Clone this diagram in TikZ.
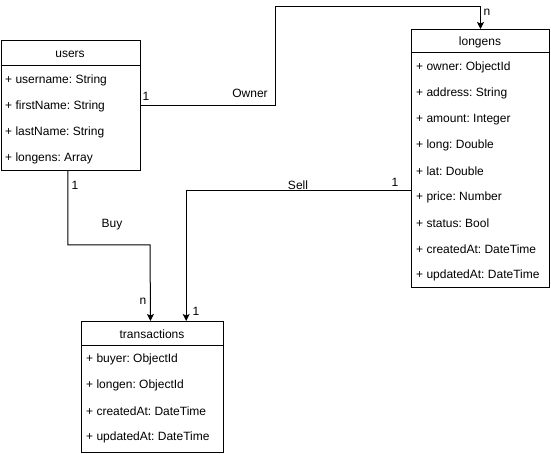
\documentclass[tikz,border=0pt]{standalone}
\usepackage{fontspec}
\setmainfont{Liberation Sans}
\usetikzlibrary{arrows.meta}
\frenchspacing
\begin{document}
\begin{tikzpicture}[x=1pt,y=-1pt,
  font=\fontsize{12}{14}\selectfont,
  every node/.style={inner sep=0pt},
  entity/.style={draw, line width=1pt, fill=white, anchor=north west},
  field/.style={anchor=west},
  link/.style={line width=1pt, -{Stealth[length=7pt,width=7pt,inset=1.5pt]}}]
\useasboundingbox (0,0) rectangle (551,454);

% entity: users
\node[entity, minimum width=139.5pt, minimum height=130pt] (users) at (0.5,40) {};
\draw[line width=1pt] (users.north west |- 0,66) -- (users.north east |- 0,66);
\node (usersT) at (70,54) {users};
\foreach \t [count=\i from 0] in {username: String, firstName: String, lastName: String, longens: Array}
  \node[field] (u\i) at (5,80.5+26*\i) {+ \t};

% entity: longens
\node[entity, minimum width=138pt, minimum height=258pt] (longens) at (411,29) {};
\draw[line width=1pt] (411,53) -- (549,53);
\node (longensT) at (480,42) {longens};
\foreach \t [count=\i from 0] in {owner: ObjectId, address: String, amount: Integer, long: Double, lat: Double, price: Number, status: Bool, createdAt: DateTime, updatedAt: DateTime}
  \node[field] (l\i) at (416,67+26.1*\i) {+ \t};

% entity: transactions
\node[entity, minimum width=142pt, minimum height=130.5pt] (trans) at (81,321) {};
\draw[line width=1pt] (81,345.5) -- (223,345.5);
\node (transT) at (152,334) {transactions};
\foreach \t [count=\i from 0] in {buyer: ObjectId, longen: ObjectId, createdAt: DateTime, updatedAt: DateTime}
  \node[field] (t\i) at (86,359+26.2*\i) {+ \t};

% relations
\coordinate (ownBend) at (275,7);
\draw[link] (users.east) -| (ownBend) -| (longens.north);
\node at (250,93) {Owner};
\node at (146,96) {1};
\node at (487,12) {n};

\coordinate (buyBend) at (150,245);
\draw[link] ([xshift=-3pt]users.south) |- (buyBend) -- ([xshift=-2pt]trans.north);
\node at (112,225) {Buy};
\node at (75,185) {1};
\node at (143,301) {n};

\draw[link] ([yshift=-32pt]longens.west) -| ([xshift=33.7pt]trans.north);
\node at (298,185) {Sell};
\node at (395,182) {1};
\node at (196,311) {1};
\end{tikzpicture}
\end{document}
